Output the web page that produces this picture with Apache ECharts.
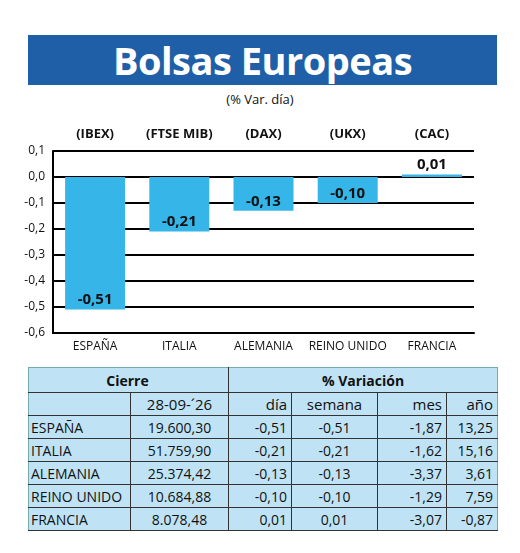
<!DOCTYPE html>
<html><head><meta charset="utf-8">
<script src="https://cdn.jsdelivr.net/npm/echarts@6/dist/echarts.min.js"></script>
<style>
body{margin:0;width:520px;height:553px;background:#fff;font-family:"Open Sans",sans-serif;position:relative;overflow:hidden}
#title{position:absolute;left:28px;top:35px;width:469px;height:50px;background:#1f5fa8;color:#fff;font:bold 38px "Open Sans";text-align:center;line-height:50px;letter-spacing:-0.5px}
#sub{position:absolute;left:0;width:520px;top:90px;text-align:center;font:13px "Open Sans";color:#111}
#chart{position:absolute;left:0;top:120px;width:520px;height:240px}
table{position:absolute;left:28px;top:367px;width:469px;border-collapse:collapse;table-layout:fixed;background:#bfe3f5;font-family:"Open Sans";font-size:14px;color:#111;border:1px solid #7aa}
td{padding:0 4px;height:22px;border-left:1px solid #333;border-bottom:1px solid #333;text-align:right;white-space:nowrap;overflow:hidden}
td.n{text-align:left;border-left:none;padding-left:2px}
tr.h td{text-align:center;font-weight:bold;font-size:14px;height:24px}
tr.h2 td{font-size:15px;height:22px}
</style></head><body>
<div id="title">Bolsas Europeas</div>
<div id="sub">(% Var. día)</div>
<div id="chart"></div>
<table id="tb"><colgroup><col style="width:102px"><col style="width:98px"><col style="width:63px"><col style="width:86px"><col style="width:69px"><col style="width:51px"></colgroup><tbody id="bd"></tbody></table>
<script>
const countries=["ESPAÑA","ITALIA","ALEMANIA","REINO UNIDO","FRANCIA"];
const indices=["(IBEX)","(FTSE MIB)","(DAX)","(UKX)","(CAC)"];
const dia=[-0.51,-0.21,-0.13,-0.10,0.01];
const cierre=["19.600,30","51.759,90","25.374,42","10.684,88","8.078,48"];
const semana=["-0,51","-0,21","-0,13","-0,10","0,01"];
const mes=["-1,87","-1,62","-3,37","-1,29","-3,07"];
const anio=["13,25","15,16","3,61","7,59","-0,87"];
const fmt=v=>v.toFixed(2).replace('.',',');
const c=echarts.init(document.getElementById('chart'));
c.setOption({animation:false,
grid:{left:53,right:46,top:31,bottom:27},
xAxis:[{type:'category',data:countries,position:'bottom',axisLine:{onZero:false,lineStyle:{color:'#000',width:2}},axisTick:{show:false},axisLabel:{interval:0,color:'#111',fontSize:12,fontFamily:'Open Sans',margin:8}},
{type:'category',data:indices,position:'top',axisLine:{show:false},axisTick:{show:false},axisLabel:{interval:0,color:'#111',fontSize:13,fontWeight:'bold',fontFamily:'Open Sans',margin:10}}],
yAxis:{type:'value',min:-0.6,max:0.1,interval:0.1,axisLine:{show:true,lineStyle:{color:'#000',width:2}},axisTick:{show:false},splitLine:{lineStyle:{color:'#000',width:2}},axisLabel:{color:'#111',fontSize:12,fontFamily:'Open Sans',formatter:v=>v.toFixed(1).replace('.',',')}},
series:[{type:'bar',data:dia.map(v=>v>0?{value:v,label:{position:'top'}}:v),barWidth:60,itemStyle:{color:'#35b5e8'},label:{show:true,position:'insideBottom',formatter:p=>fmt(p.value),fontSize:15,fontWeight:'bold',color:'#111',fontFamily:'Open Sans',distance:2}}]});
let h='<tr class="h"><td class="n" colspan="2" style="text-align:center">Cierre</td><td colspan="4">% Variación</td></tr>';
h+='<tr class="h2"><td class="n"></td><td style="text-align:center">28-09-´26</td><td>día</td><td style="text-align:center">semana</td><td>mes</td><td>año</td></tr>';
countries.forEach((n,i)=>{h+=`<tr><td class="n">${n}</td><td style="text-align:center">${cierre[i]}</td><td>${fmt(dia[i])}</td><td style="text-align:center">${semana[i]}</td><td>${mes[i]}</td><td>${anio[i]}</td></tr>`});
document.getElementById('bd').innerHTML=h;
</script></body></html>
